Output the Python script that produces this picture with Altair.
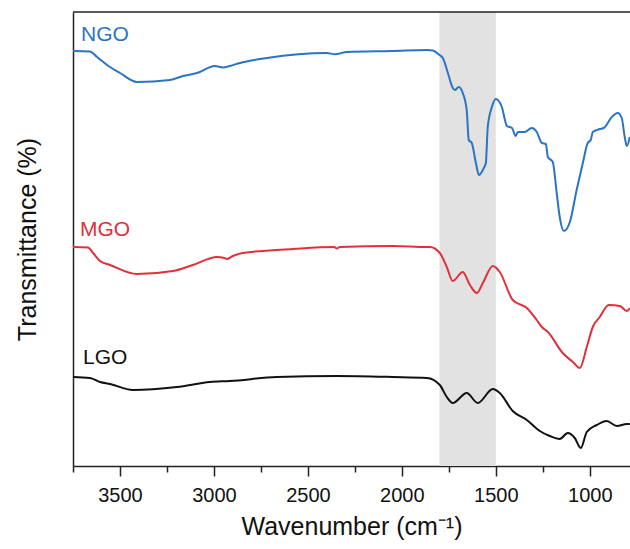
import altair as alt
import pandas as pd

# NGO spectrum (wavenumber, relative transmittance)
ngo_w = [3750, 3660, 3622, 3553, 3500, 3410, 3234, 3165, 3090, 2995, 2952, 2915, 2862, 2718, 2399, 2356,
         2292, 2048, 1867, 1835, 1800, 1782, 1755, 1729, 1718, 1697, 1676, 1655, 1644, 1628, 1606, 1590,
         1564, 1553, 1543, 1521, 1500, 1468, 1441, 1414, 1394, 1383, 1346, 1309, 1282, 1255, 1234, 1223,
         1197, 1176, 1160, 1138, 1106, 1070, 1037, 1011, 995, 984, 947, 926, 883, 851, 830, 814, 803, 787]
ngo_t = [415, 414.5, 409, 399, 393, 384, 386, 390, 393, 400, 398.5, 400, 403, 408, 413, 411.7,
         414, 415, 416, 415.5, 411, 408, 393, 378, 376, 379, 373, 356, 326, 323, 303, 291,
         298, 303, 339, 359, 367, 359, 340, 338, 330, 334, 334, 338, 334, 323, 322, 309,
         304, 273, 249, 235, 244, 276, 303, 323, 326, 334, 337, 338, 349, 353, 348, 329, 320, 329]

# MGO spectrum
mgo_w = [3750, 3670, 3643, 3606, 3553, 3410, 3218, 3112, 2984, 2945, 2931, 2900, 2846, 2580, 2360, 2346,
         2330, 2048, 1867, 1851, 1798, 1761, 1729, 1676, 1638, 1601, 1569, 1516, 1479, 1410, 1335, 1282,
         1255, 1223, 1144, 1090, 1053, 1016, 984, 947, 899, 840, 803, 787]
mgo_t = [219, 218.5, 213, 205, 201, 192, 195, 201, 209, 208, 207, 210, 213, 217, 219, 217.5,
         219, 220, 219, 219, 213, 199, 185, 194, 181, 173, 183, 200, 194, 166, 158, 146,
         139, 134, 113, 104, 98, 119, 139, 149, 161, 160, 155, 158]

# LGO spectrum
lgo_w = [3750, 3660, 3606, 3553, 3431, 3197, 3021, 2915, 2665, 2346, 2048, 1867, 1798, 1761, 1729, 1655,
         1596, 1516, 1479, 1410, 1335, 1266, 1213, 1160, 1117, 1080, 1048, 1016, 963, 910, 856, 803, 787]
lgo_t = [89, 88, 84, 82, 76, 79, 84, 85, 89, 90, 89, 88, 81, 69, 63, 73,
         63, 77, 73, 55, 46, 35, 30, 27, 33, 28, 18, 34, 41, 45, 40, 42, 42]

series_names = ["NGO", "MGO", "LGO"]
series_colors = ["#2a74c4", "#e0303a", "#111111"]

# labels
label_text = ["NGO", "MGO", "LGO"]
label_w = [3707, 3713, 3697]
label_t = [431, 236, 108]

# highlighted band
band_start = [1800]
band_end = [1500]

tick_values = [3750, 3500, 3250, 3000, 2750, 2500, 2250, 2000, 1750, 1500, 1250, 1000]

rows = []
for name, ws, ts in zip(series_names, [ngo_w, mgo_w, lgo_w], [ngo_t, mgo_t, lgo_t]):
    for i, (w, t) in enumerate(zip(ws, ts)):
        rows.append({"series": name, "w": w, "t": t, "order": i})
df = pd.DataFrame(rows)
labels_df = pd.DataFrame({"text": label_text, "w": label_w, "t": label_t, "series": series_names})
band_df = pd.DataFrame({"start": band_start, "end": band_end})

xscale = alt.Scale(domain=[3750, 786], nice=False, zero=False)
yscale = alt.Scale(domain=[0, 454], nice=False, zero=False)
cscale = alt.Scale(domain=series_names, range=series_colors)

band = alt.Chart(band_df).mark_rect(color="#e2e2e2").encode(
    x=alt.X("start:Q", scale=xscale,
            axis=alt.Axis(values=tick_values, title="Wavenumber (cm⁻¹)",
                          labelExpr="datum.value % 500 === 0 ? datum.value : ''",
                          tickSize={"condition": {"test": "datum.value % 500 === 0", "value": 10}, "value": 6},
                          grid=False)),
    x2="end:Q",
)

lines = alt.Chart(df).mark_line(strokeWidth=2, interpolate="monotone", clip=True).encode(
    x=alt.X("w:Q", scale=xscale),
    y=alt.Y("t:Q", scale=yscale,
            axis=alt.Axis(title="Transmittance (%)", labels=False, ticks=False, grid=False)),
    color=alt.Color("series:N", scale=cscale, legend=None),
    order="order:Q",
    detail="series:N",
)

texts = alt.Chart(labels_df).mark_text(align="left", baseline="middle", fontSize=21,
                                        font="Liberation Sans").encode(
    x=alt.X("w:Q", scale=xscale),
    y=alt.Y("t:Q", scale=yscale),
    text="text:N",
    color=alt.Color("series:N", scale=cscale, legend=None),
)

top_rule = alt.Chart(band_df).mark_rule(color="#222222", strokeWidth=1.5).encode(
    x=alt.value(0), x2=alt.value(557), y=alt.value(0)
)

chart = alt.layer(band, lines, texts, top_rule).properties(
    width=557, height=454,
    autosize=alt.AutoSizeParams(type="none"),
    padding={"left": 73, "top": 12, "right": 0, "bottom": 83},
).configure_view(stroke=None).configure_axis(
    domainColor="#222222", domainWidth=1.5, tickColor="#222222", tickWidth=1.5,
    labelFont="Liberation Sans", labelFontSize=20, labelColor="#111111", labelPadding=9,
    titleFont="Liberation Sans", titleFontSize=25, titleFontWeight="normal", titleColor="#111111",
).configure_axisX(titlePadding=9).configure_axisY(titlePadding=33)

chart.save("out.html", embed_options={"renderer": "svg", "actions": False})
